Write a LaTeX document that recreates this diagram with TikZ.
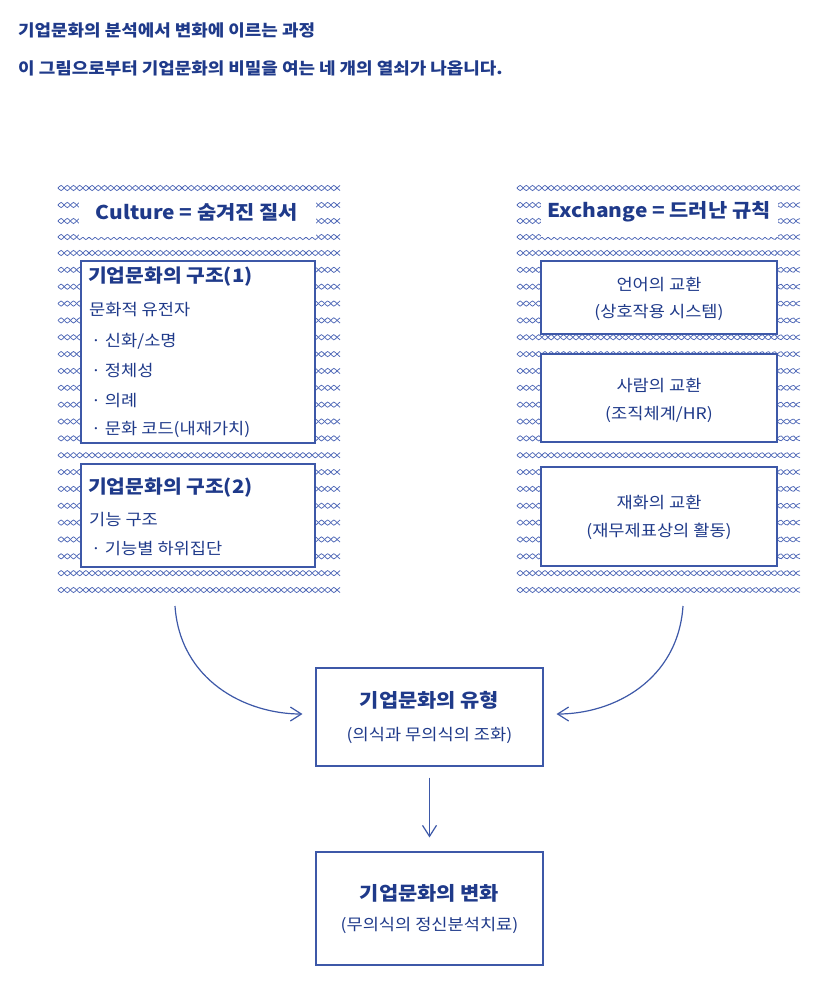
\documentclass[tikz,border=0pt]{standalone}
\usepackage{fontspec}
\setmainfont{Noto Sans CJK KR}[FakeStretch=1.1]
\usetikzlibrary{arrows.meta}
\definecolor{navy}{HTML}{1F3A8A}
\definecolor{lineblue}{HTML}{3D58A8}
\definecolor{patblue}{HTML}{5069B8}
\tikzset{
  pat/.style={draw=patblue, line width=0.75pt},
  whitearea/.style={fill=white, draw=none},
  infobox/.style={draw=lineblue, fill=white, line width=1.1pt},
  paneltxt/.style={text=navy, font=\bfseries\fontsize{19}{22}\selectfont, inner sep=0pt},
  headtxt/.style={text=navy, font=\bfseries\fontsize{18.5}{21}\selectfont, inner sep=0pt},
  bodytxt/.style={text=navy, font=\fontsize{16}{19}\selectfont, inner sep=0pt},
  bigtitle/.style={text=navy, font=\bfseries\fontsize{16.3}{20}\selectfont, inner sep=0pt, anchor=west},
  midhead/.style={text=navy, font=\bfseries\fontsize{19}{22}\selectfont, inner sep=0pt},
  midsub/.style={text=navy, font=\fontsize{16}{19}\selectfont, inner sep=0pt},
  flowarrow/.style={draw=lineblue, line width=1.2pt, -{Straight Barb[length=11pt,width=14pt,line width=1.2pt]}},
}
\begin{document}
\begin{tikzpicture}[x=1pt,y=-1pt]
\useasboundingbox[fill=white] (0,0) rectangle (834,998);

% header
\node[bigtitle] (t1) at (18,30) {기업문화의 분석에서 변화에 이르는 과정};
\node[bigtitle] (t2) at (18,68) {이 그림으로부터 기업문화의 비밀을 여는 네 개의 열쇠가 나옵니다.};

% hatched panels
\foreach \xa/\xb in {58/340, 517/800}{
  \foreach \r in {188,205,221,237}{
    \draw[pat] plot[smooth, domain=\xa:\xb, samples=92] (\x, {\r + 2.6*sin((\x-\xa)*29.0323)});
    \draw[pat] plot[smooth, domain=\xa:\xb, samples=92] (\x, {\r - 2.6*sin((\x-\xa)*29.0323)});
  }
  \foreach \k in {0,...,20}{
    \pgfmathsetmacro{\r}{590-16.85*\k}
    \draw[pat] plot[smooth, domain=\xa:\xb, samples=92] (\x, {\r + 2.6*sin((\x-\xa)*29.0323)});
    \draw[pat] plot[smooth, domain=\xa:\xb, samples=92] (\x, {\r - 2.6*sin((\x-\xa)*29.0323)});
  }
}
\fill[whitearea] (79,194) rectangle (316,237.3);
\fill[whitearea] (541,194) rectangle (778,237.3);

\node[paneltxt] (ltitle) at (197,212) {Culture = 숨겨진 질서};
\node[paneltxt] (rtitle) at (659,212) {Exchange = 드러난 규칙};

% left boxes
\draw[infobox] (81,261) rectangle (315,443);
\draw[infobox] (81,464) rectangle (315,567);
\node[headtxt, anchor=west] (s1) at (88,277) {기업문화의 구조(1)};
\node[bodytxt, anchor=west] (s1a) at (89,310) {문화적 유전자};
\node[bodytxt, anchor=west] (s1b) at (91,341) {· 신화/소명};
\node[bodytxt, anchor=west] (s1c) at (91,371) {· 정체성};
\node[bodytxt, anchor=west] (s1d) at (91,401) {· 의례};
\node[bodytxt, anchor=west] (s1e) at (91,429) {· 문화 코드(내재가치)};
\node[headtxt, anchor=west] (s2) at (88,488) {기업문화의 구조(2)};
\node[bodytxt, anchor=west] (s2a) at (89,520) {기능 구조};
\node[bodytxt, anchor=west] (s2b) at (91,549) {· 기능별 하위집단};

% right boxes
\draw[infobox] (541,261) rectangle (777,334);
\draw[infobox] (541,354) rectangle (777,442);
\draw[infobox] (541,467) rectangle (777,566);
\node[bodytxt] (r1) at (659,284) {언어의 교환};
\node[bodytxt] (r1s) at (659,312) {(상호작용 시스템)};
\node[bodytxt] (r2) at (659,385) {사람의 교환};
\node[bodytxt] (r2s) at (659,414) {(조직체계/HR)};
\node[bodytxt] (r3) at (659,502) {재화의 교환};
\node[bodytxt] (r3s) at (659,531) {(재무제표상의 활동)};

% middle and bottom boxes
\node[infobox, minimum width=227pt, minimum height=98pt, inner sep=0pt] (mid) at (429.5,717) {};
\node[midhead] (midh) at (429.5,700) {기업문화의 유형};
\node[midsub] (mids) at (429.5,735) {(의식과 무의식의 조화)};
\node[infobox, minimum width=227pt, minimum height=113pt, inner sep=0pt] (bot) at (429.5,908.5) {};
\node[midhead] (both) at (429.5,893) {기업문화의 변화};
\node[midsub] (bots) at (429.5,925) {(무의식의 정신분석치료)};

% connectors
\coordinate (ls) at (175,606);
\coordinate (rs) at (683,606);
\draw[flowarrow, shorten >=13pt] (ls) .. controls (180,680) and (245,714) .. (mid.west |- 0,714);
\draw[flowarrow, shorten >=13pt] (rs) .. controls (678,680) and (614,714) .. (mid.east |- 0,714);
\draw[flowarrow, shorten <=11pt, shorten >=14pt] (mid.south) -- (bot.north);
\end{tikzpicture}
\end{document}
